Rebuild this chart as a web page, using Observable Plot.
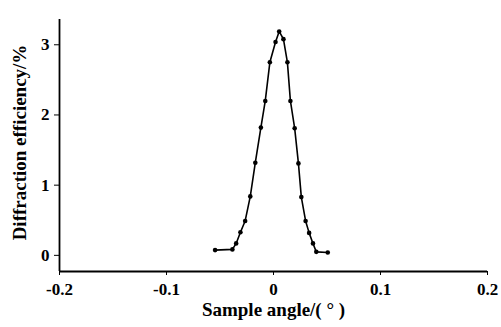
<!DOCTYPE html>
<html>
<head>
<meta charset="utf-8">
<script src="https://cdn.jsdelivr.net/npm/d3@7"></script>
<script src="https://cdn.jsdelivr.net/npm/@observablehq/plot@0.6"></script>
<style>
  html, body { margin: 0; padding: 0; background: #fff; }
  #chart svg { display: block; }
</style>
</head>
<body>
<div id="chart"></div>
<script>
const angles = [-0.0546, -0.0384, -0.0349, -0.0309, -0.0265, -0.0217, -0.0170, -0.0118, -0.0077, -0.0034, 0.0019, 0.0053, 0.0093, 0.0130, 0.0158, 0.0198, 0.0233, 0.0260, 0.0300, 0.0333, 0.0369, 0.0400, 0.0507];
const efficiency = [0.075, 0.085, 0.17, 0.33, 0.49, 0.84, 1.32, 1.82, 2.20, 2.75, 3.04, 3.19, 3.08, 2.75, 2.20, 1.81, 1.31, 0.83, 0.49, 0.32, 0.17, 0.05, 0.04];
const xTicks = [-0.2, -0.1, 0, 0.1, 0.2];
const yTicks = [0, 1, 2, 3];
const xLabel = "Sample angle/( ° )";
const yLabel = "Diffraction efficiency/%";

const data = angles.map((a, i) => ({angle: a, eff: efficiency[i]}));
const yMin = -0.23, yMax = 3.36;

const chart = Plot.plot({
  width: 501,
  height: 327,
  marginLeft: 59,
  marginRight: 14,
  marginTop: 19,
  marginBottom: 56,
  style: {fontFamily: "'Liberation Serif', 'DejaVu Serif', serif", fontSize: "17px", fontWeight: "bold", color: "#000", background: "#fff"},
  x: {domain: [-0.2, 0.2], label: null},
  y: {domain: [yMin, yMax], label: null},
  marks: [
    Plot.axisX({ticks: xTicks, tickSize: 4, tickPadding: 7, tickFormat: d => String(d), fontSize: 17, fontWeight: "bold", stroke: "#000"}),
    Plot.axisY({ticks: yTicks, tickSize: 5, tickPadding: 5, tickFormat: d => String(d), fontSize: 17, fontWeight: "bold", stroke: "#000"}),
    Plot.ruleX([-0.2], {stroke: "#000", strokeWidth: 1.8}),
    Plot.ruleY([yMin], {stroke: "#000", strokeWidth: 1.8}),
    Plot.line(data, {x: "angle", y: "eff", stroke: "#000", strokeWidth: 1.6}),
    Plot.dot(data, {x: "angle", y: "eff", r: 2.3, fill: "#000", stroke: "none"}),
    Plot.text([xLabel], {frameAnchor: "bottom", dy: 44, fontSize: 19, fontWeight: "bold", fill: "#000", textAnchor: "middle", letterSpacing: "1px"}),
    Plot.text([yLabel], {frameAnchor: "left", dx: -40, dy: -3, rotate: -90, fontSize: 19, fontWeight: "bold", fill: "#000", textAnchor: "middle"})
  ]
});
document.getElementById("chart").appendChild(chart);
</script>
</body>
</html>
